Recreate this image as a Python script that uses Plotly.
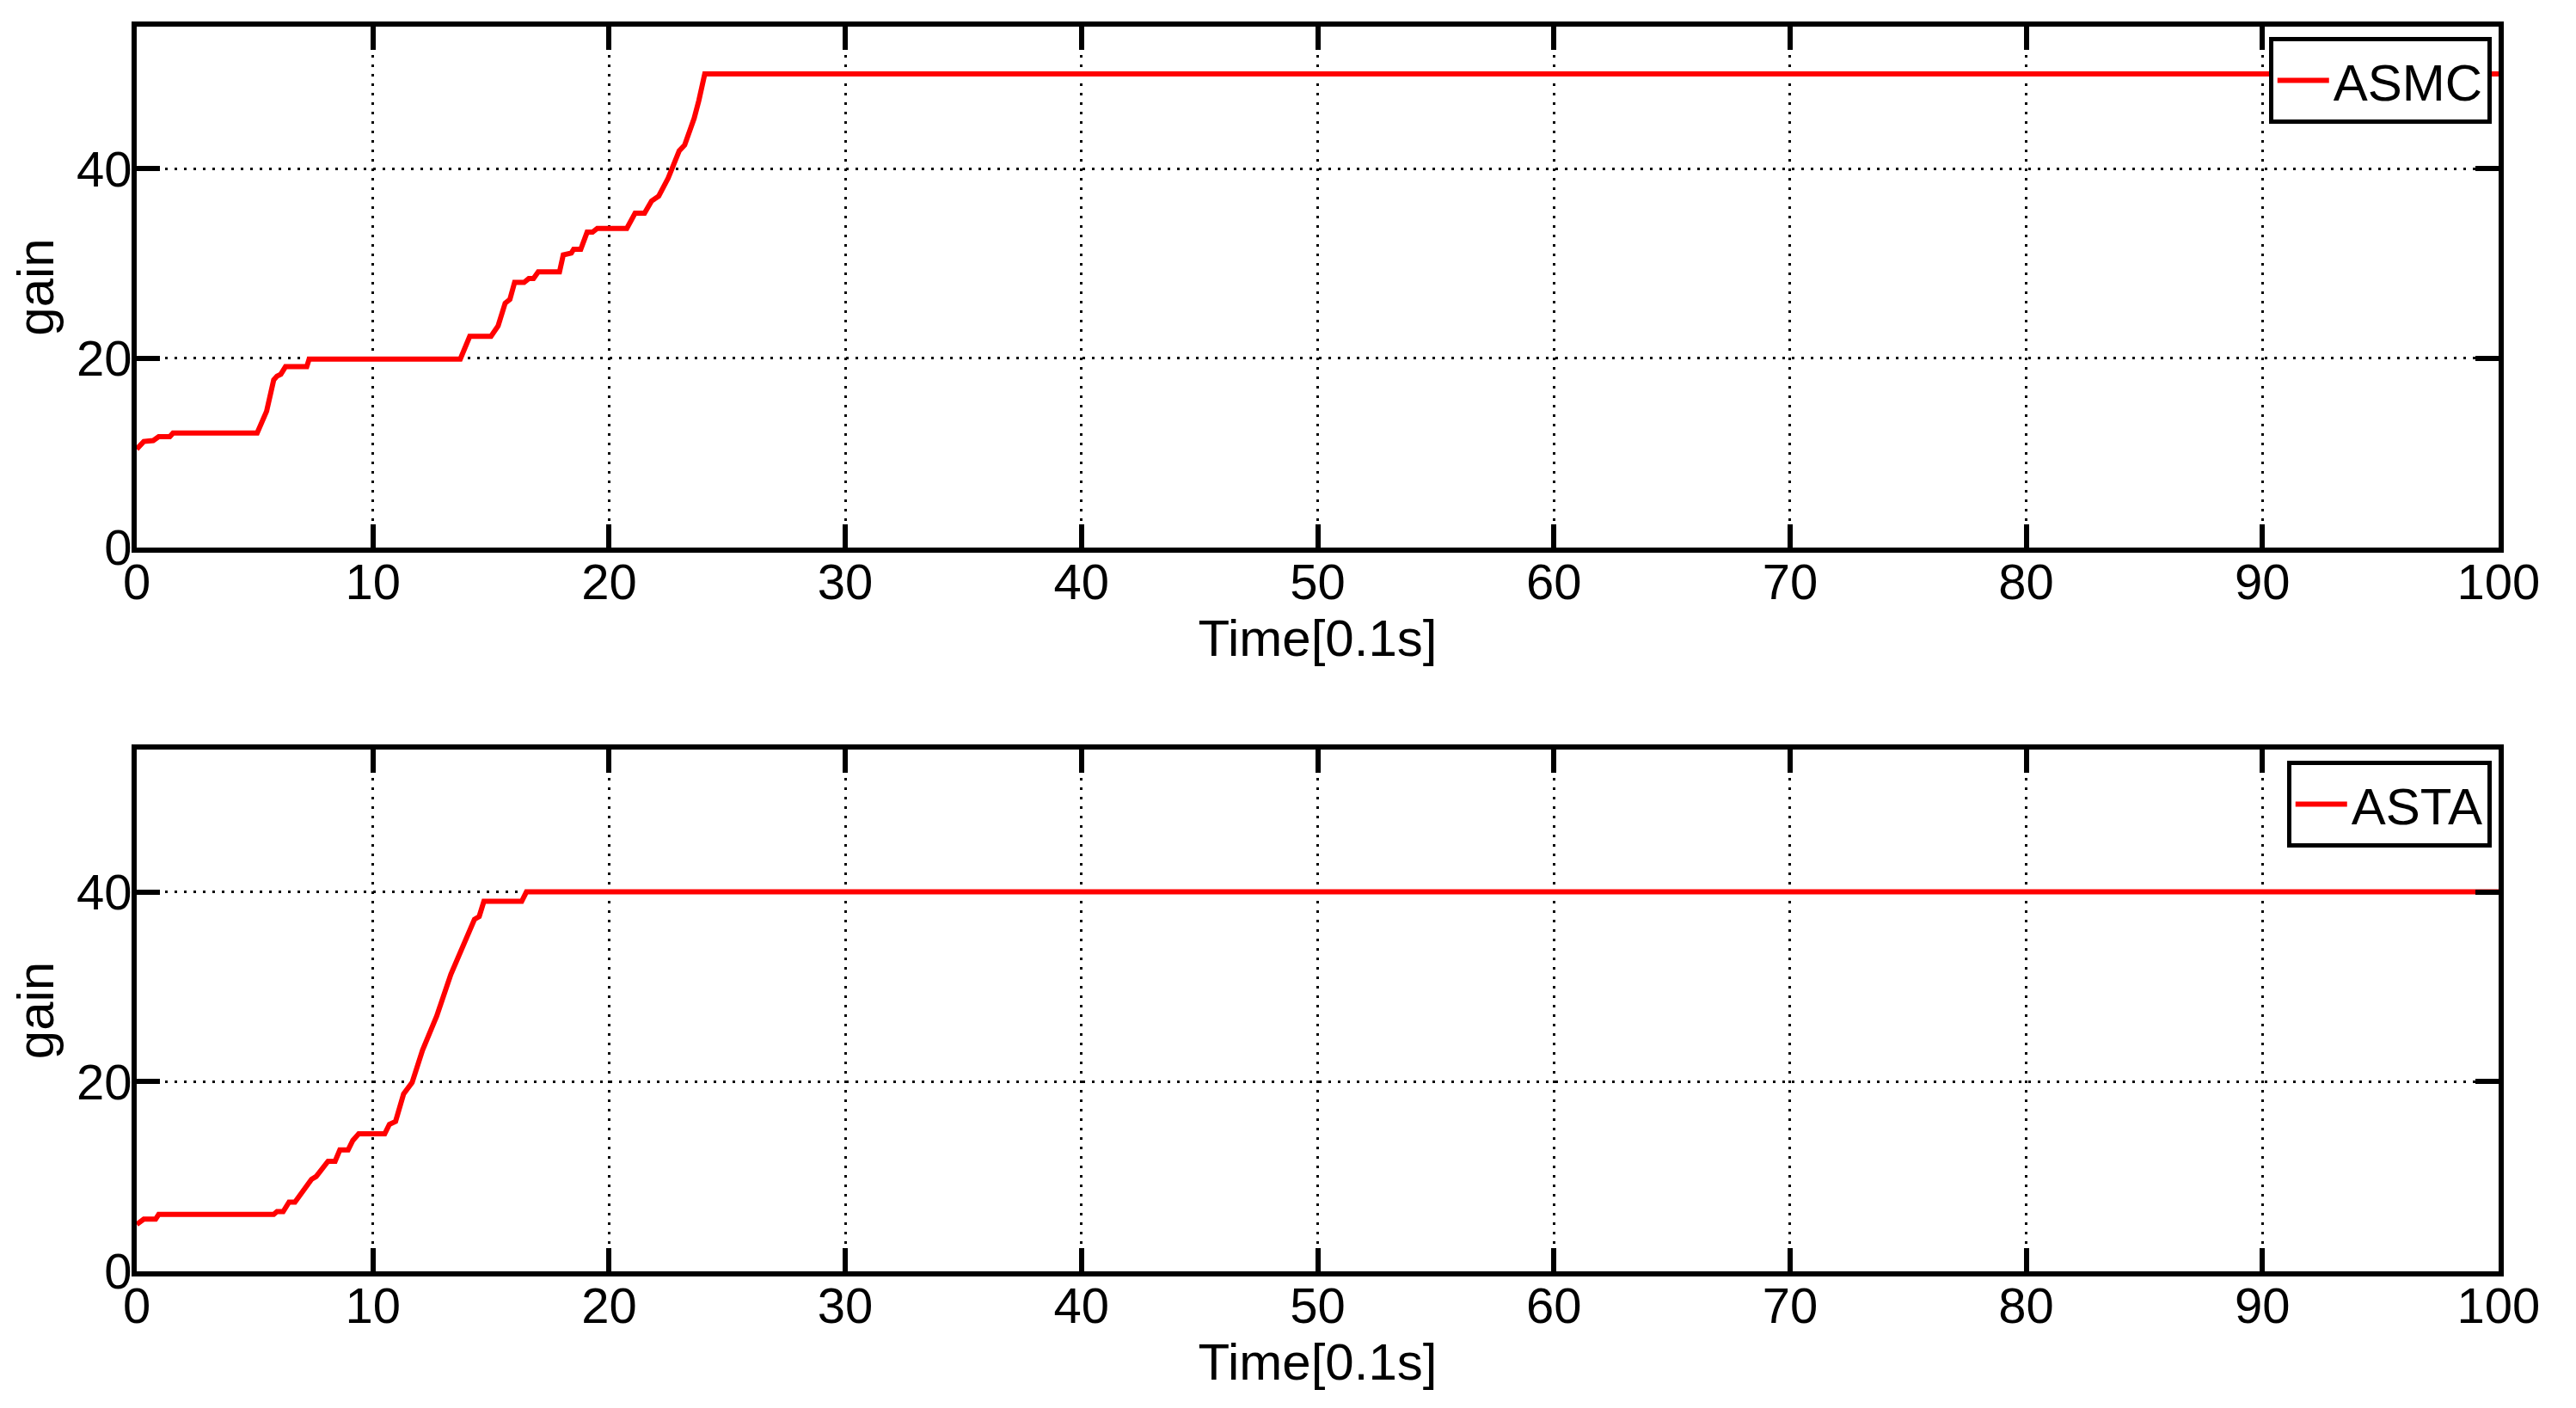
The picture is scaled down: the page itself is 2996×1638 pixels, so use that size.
import plotly.graph_objects as go
from plotly.subplots import make_subplots

# adaptive gains, time in units of 0.1 s
asmc_t = [0, 0.3, 0.7, 0.93, 1.4, 1.54, 5.1, 5.5, 5.8, 5.94, 6.1, 6.3, 7.2, 7.3,
          13.7, 14.1, 15.0, 15.3, 15.6, 15.8, 16.0, 16.4, 16.6, 16.8, 17.0, 17.9,
          18.06, 18.4, 18.5, 18.8, 19.07, 19.3, 19.5, 20.75, 21.1, 21.5, 21.8,
          22.1, 22.5, 22.8, 22.97, 23.2, 23.4, 23.6, 23.8, 24.05, 100]
asmc_gain = [10.4, 11.2, 11.3, 11.7, 11.7, 12.1, 12.1, 14.4, 17.7, 18.1, 18.3, 19.1,
             19.1, 19.9, 19.9, 22.3, 22.3, 23.4, 25.8, 26.2, 28.0, 28.0, 28.4, 28.4,
             29.1, 29.1, 30.9, 31.1, 31.5, 31.5, 33.3, 33.3, 33.7, 33.7, 35.3, 35.3,
             36.6, 37.1, 39.0, 40.9, 41.9, 42.5, 43.9, 45.3, 47.2, 50.0, 50.0]

asta_t = [0, 0.3, 0.8, 0.93, 5.8, 5.94, 6.2, 6.45, 6.7, 6.9, 7.1, 7.4, 7.6, 8.1,
          8.4, 8.6, 8.95, 9.15, 9.4, 10.5, 10.7, 10.96, 11.3, 11.66, 12.1, 12.7,
          13.3, 13.7, 14.0, 14.3, 14.5, 14.7, 16.3, 16.5, 100]
asta_gain = [4.95, 5.5, 5.5, 6.0, 6.0, 6.3, 6.3, 7.3, 7.3, 8.0, 8.5, 9.7, 10.0, 11.6,
             11.6, 12.8, 12.8, 13.8, 14.5, 14.5, 15.5, 15.8, 18.7, 19.9, 23.3, 26.9,
             31.3, 33.7, 35.2, 37.1, 37.4, 39.0, 39.0, 40.0, 40.0]

x_ticks = list(range(0, 101, 10))
y_ticks = [0, 20, 40]

FONT = "Liberation Sans, Arial, Helvetica, sans-serif"
# the page body keeps an 8px margin, so the figure is shrunk to fit the window
W, H = 2980, 1622
ML, MR, MT, MB = 151, 82, 23, 151

fig = make_subplots(rows=2, cols=1)

fig.add_trace(go.Scatter(x=asmc_t, y=asmc_gain, mode="lines", name="ASMC",
                         line=dict(color="#ff0000", width=6), legend="legend"),
              row=1, col=1)
fig.add_trace(go.Scatter(x=asta_t, y=asta_gain, mode="lines", name="ASTA",
                         line=dict(color="#ff0000", width=6), legend="legend2"),
              row=2, col=1)

axis_style = dict(
    showline=True, linecolor="black", linewidth=6, mirror="allticks",
    ticks="inside", ticklen=27, tickwidth=6, tickcolor="black",
    showgrid=True, gridcolor="black", gridwidth=3, griddash="3px,8px",
    zeroline=False, tickfont=dict(size=58, color="black", family=FONT),
)

for r in (1, 2):
    fig.update_xaxes(range=[0, 100], tickvals=x_ticks, ticklabelstandoff=-16,
                     title=dict(text="Time[0.1s]", standoff=0,
                                font=dict(size=60, color="black", family=FONT)),
                     row=r, col=1, **axis_style)
    fig.update_yaxes(range=[0, 55], tickvals=y_ticks, ticklabelstandoff=-12,
                     title=dict(text="gain", standoff=26,
                                font=dict(size=60, color="black", family=FONT)),
                     row=r, col=1, **axis_style)

plot_h = H - MT - MB
mid1_px, mid2_px = 629, 864
fig.update_layout(
    xaxis=dict(domain=[0, 1]),
    yaxis=dict(domain=[(H - MB - mid1_px) / plot_h, 1]),
    xaxis2=dict(domain=[0, 1]),
    yaxis2=dict(domain=[0, (H - MB - mid2_px) / plot_h]),
)

legend_style = dict(
    xanchor="right", yanchor="top", x=0.997,
    bgcolor="white", bordercolor="black", borderwidth=5,
    font=dict(size=60, color="black", family=FONT),
    tracegroupgap=0, itemwidth=60,
)
fig.update_layout(
    width=W, height=H,
    margin=dict(l=ML, r=MR, t=MT, b=MB),
    paper_bgcolor="white", plot_bgcolor="white",
    font=dict(family=FONT, color="black"),
    legend=dict(y=(H - MB - 35) / plot_h, **legend_style),
    legend2=dict(y=(H - MB - 877) / plot_h, **legend_style),
    showlegend=True,
)

fig.write_html("out.html")
